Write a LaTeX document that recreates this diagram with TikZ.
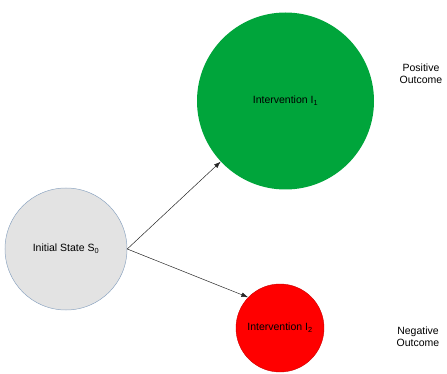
\documentclass[tikz,border=0pt]{standalone}
\usepackage{fontspec}
\setmainfont{Liberation Sans}
\usepackage{xcolor}
\usetikzlibrary{arrows.meta, positioning}
\definecolor{stategray}{HTML}{E3E3E3}
\definecolor{stateedge}{HTML}{8EA6C2}
\definecolor{posgreen}{HTML}{00A53B}
\definecolor{negred}{HTML}{FF0000}
\tikzset{
  state/.style={circle, draw=stateedge, fill=stategray, line width=0.5pt,
    minimum size=122pt, inner sep=0pt, font=\fontsize{10.5}{12}\selectfont},
  intervention/.style={circle, draw=none, inner sep=0pt,
    font=\fontsize{10.5}{12}\selectfont},
  outcome/.style={align=center, font=\fontsize{10.5}{12}\selectfont},
  arrowline/.style={-{Latex[length=2.4mm, width=1.7mm]}, line width=0.5pt, black!85}
}
\begin{document}
\begin{tikzpicture}[x=1pt, y=-1pt]
  \useasboundingbox (0,0) rectangle (447,374);
  \node[state] (init) at (66,249) {Initial State S\textsubscript{0}};
  \node[intervention, fill=posgreen, minimum size=177pt] (pos) at (285.5,101) {Intervention I\textsubscript{1}};
  \node[intervention, fill=negred, draw=negred!80!black, minimum size=88pt] (neg) at (280,328) {Intervention I\textsubscript{2}};
  \node[outcome] (good) at (421,74) {Positive\\Outcome};
  \node[outcome] (bad) at (418,337) {Negative\\Outcome};

  \draw[arrowline] (init.east) -- (pos);
  \draw[arrowline] (init.east) -- (neg.136);
\end{tikzpicture}
\end{document}
